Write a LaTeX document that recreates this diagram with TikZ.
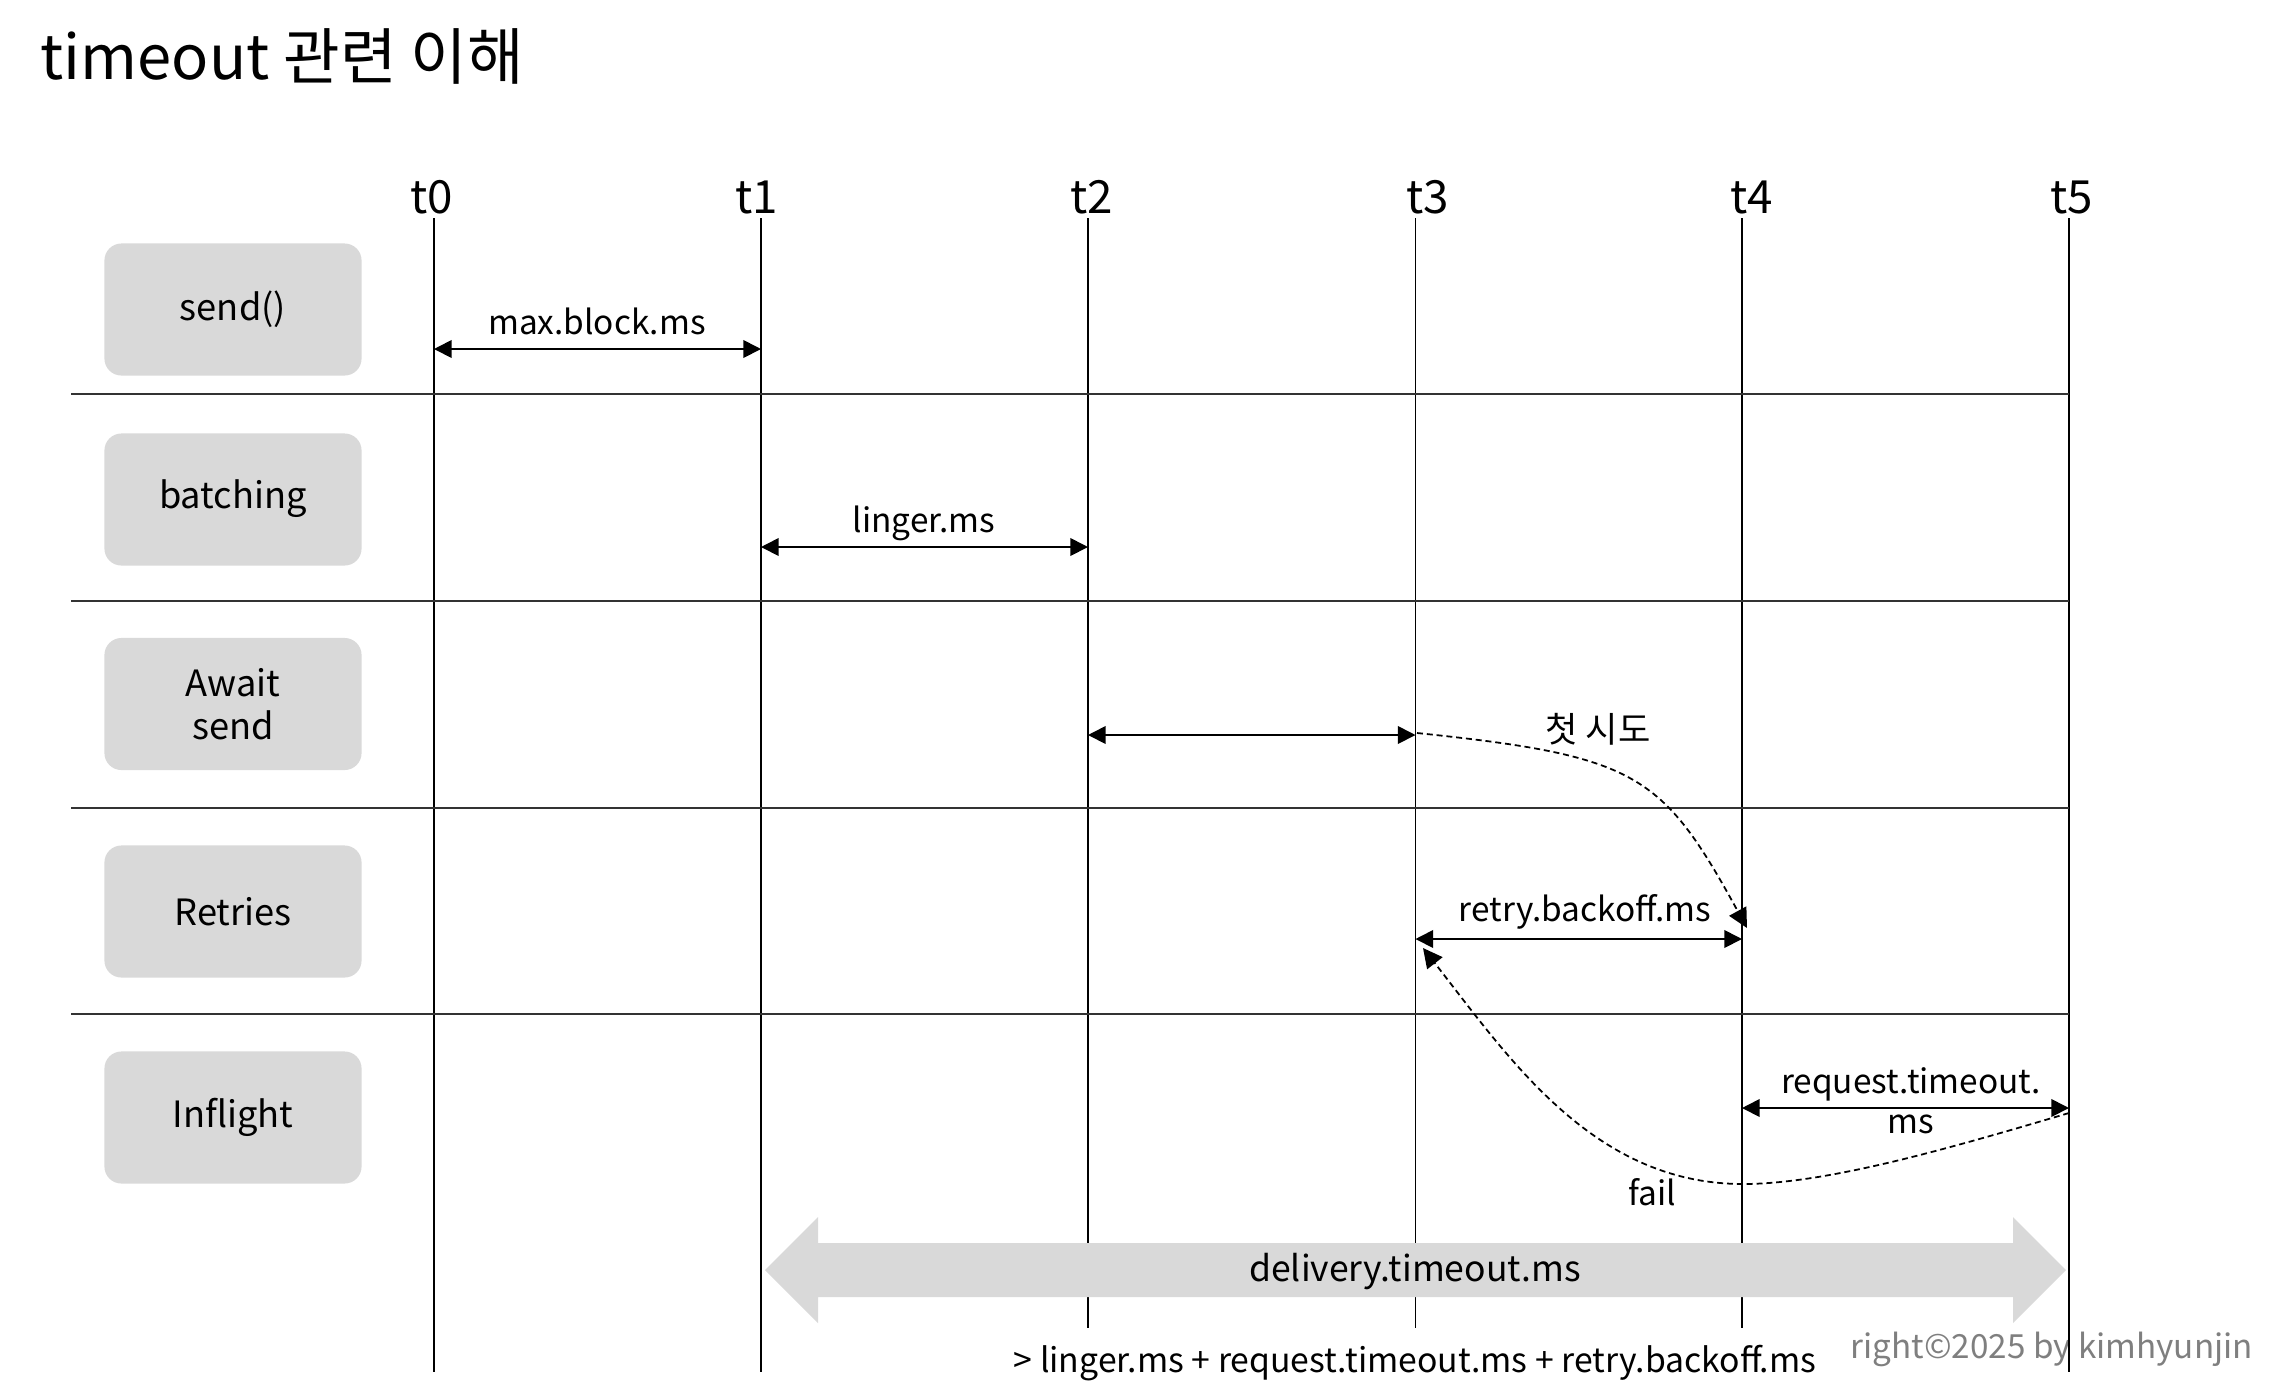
\documentclass[tikz,border=0pt]{standalone}
\usepackage{fontspec}
\setmainfont{Noto Sans CJK KR}
\usetikzlibrary{arrows.meta}
\definecolor{boxgray}{HTML}{D9D9D9}
\definecolor{sepgray}{HTML}{333333}
\definecolor{copygray}{HTML}{7F7F7F}
\begin{document}
\begin{tikzpicture}[x=0.01cm,y=-0.01cm,
  rowbox/.style={fill=boxgray, rounded corners=0.17cm, minimum width=2.57cm, minimum height=1.32cm, align=center, font=\fontsize{10.3}{12.3}\selectfont, inner sep=0pt},
  tlabel/.style={anchor=base, font=\fontsize{13}{15}\selectfont, inner sep=0pt},
  lbl/.style={anchor=base, font=\fontsize{9.5}{11}\selectfont, inner sep=0pt},
  tline/.style={line width=0.45pt, draw=black},
  sepline/.style={line width=0.55pt, draw=sepgray},
  dimarrow/.style={line width=0.5pt, {Triangle[length=5pt,width=5pt]}-{Triangle[length=5pt,width=5pt]}},
  flow/.style={line width=0.5pt, dash pattern=on 1.7pt off 1.1pt, -{Triangle[length=5.5pt,width=5.5pt]}}]
\path[use as bounding box] (0,0) rectangle (2274,1396);

% title
\node[anchor=base west, font=\fontsize{17.5}{20}\selectfont, inner sep=0pt] (title) at (40,79) {timeout 관련 이해};

% copyright (under the t5 line)
\node[anchor=base west, font=\fontsize{9.45}{11}\selectfont, text=copygray, inner sep=0pt] (copy) at (1850,1358) {right©2025 by kimhyunjin};

% time labels
\node[tlabel] (t0) at (432,213) {t0};
\node[tlabel] (t1) at (757,213) {t1};
\node[tlabel] (t2) at (1092,213) {t2};
\node[tlabel] (t3) at (1428,213) {t3};
\node[tlabel] (t4) at (1752,213) {t4};
\node[tlabel] (t5) at (2072,213) {t5};

% time line ends
\coordinate (top0) at (434,218);   \coordinate (bot0) at (434,1372);
\coordinate (top1) at (761,218);   \coordinate (bot1) at (761,1372);
\coordinate (top2) at (1088,218);  \coordinate (bot2) at (1088,1328);
\coordinate (top3) at (1415.5,218);\coordinate (bot3) at (1415.5,1328);
\coordinate (top4) at (1742,218);  \coordinate (bot4) at (1742,1328);
\coordinate (top5) at (2069,218);  \coordinate (bot5) at (2069,1372);
\foreach \i in {0,...,5} {\draw[tline] (top\i) -- (bot\i);}

% row separators
\foreach \i/\y in {1/394,2/601,3/808,4/1014} {
  \coordinate (sl\i) at (71,\y); \coordinate (sr\i) at (2069,\y);
  \draw[sepline] (sl\i) -- (sr\i);
}

% row boxes
\node[rowbox] (r1) at (233,309.5) {send()};
\node[rowbox] (r2) at (233,499.5) {\raisebox{-3pt}{}batching};
\node[rowbox] (r3) at (233,704) {Await\\send};
\node[rowbox] (r4) at (233,911.5) {Retries};
\node[rowbox] (r5) at (233,1117.5) {Inflight};

% dimension arrows
\coordinate (a0) at (434,349);    \coordinate (a1) at (761,349);
\coordinate (b1) at (761,547);    \coordinate (b2) at (1088,547);
\coordinate (c2) at (1088,735);   \coordinate (c3) at (1415.5,735);
\coordinate (d3) at (1415.5,939); \coordinate (d4) at (1742,939);
\coordinate (e4) at (1742,1108);  \coordinate (e5) at (2069,1108);
\draw[dimarrow] (a0) -- (a1);
\draw[dimarrow] (b1) -- (b2);
\draw[dimarrow] (c2) -- (c3);
\draw[dimarrow] (d3) -- (d4);
\draw[dimarrow] (e4) -- (e5);

\node[lbl] (lmax) at (597,334) {max.block.ms};
\node[lbl] (lling) at (924,532) {linger.ms};
\node[lbl] (lretry) at (1585,921) {retry.backoff.ms};
\node[lbl] (lreq1) at (1911,1093) {request.timeout.};
\node[lbl] (lreq2) at (1911,1133) {ms};
\node[lbl, font=\fontsize{10}{12}\selectfont] (lfirst) at (1598,742) {첫 시도};
\node[lbl] (lfail) at (1652,1205) {fail};

% dashed flow curves
\coordinate (f1s) at (1417,733);  \coordinate (f1e) at (1747,928);
\draw[flow] (f1s) .. controls (1637,756) and (1662,773) .. (f1e);
\coordinate (f2s) at (2069,1113); \coordinate (f2m) at (1743,1184); \coordinate (f2e) at (1423,948);
\draw[flow] (f2s) .. controls (1960,1145) and (1830,1184) .. (f2m) .. controls (1593,1184) and (1509,1058) .. (f2e);

% delivery timeout big arrow
\fill[boxgray] (765,1270) -- (818,1217) -- (818,1243) -- (2013,1243) -- (2013,1217) -- (2066,1270)
  -- (2013,1323) -- (2013,1297) -- (818,1297) -- (818,1323) -- cycle;
\node[font=\fontsize{10.1}{12}\selectfont, inner sep=0pt] (deliv) at (1415,1272) {delivery.timeout.ms};

\node[anchor=base, font=\fontsize{9.6}{11}\selectfont, inner sep=0pt] (sum) at (1415,1372) {> linger.ms + request.timeout.ms + retry.backoff.ms};
\end{tikzpicture}
\end{document}
